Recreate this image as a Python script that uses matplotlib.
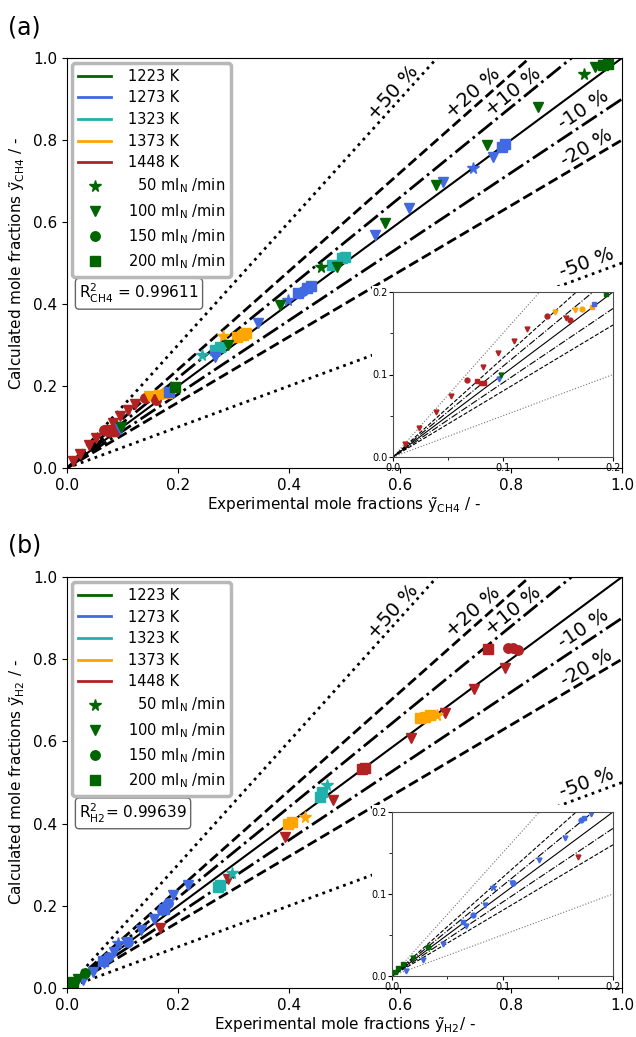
import math
import matplotlib
matplotlib.use('Agg')
import matplotlib.pyplot as plt
from matplotlib.patches import Rectangle
from matplotlib.lines import Line2D

# ---------------- categories ----------------
temps = ['1223 K', '1273 K', '1323 K', '1373 K', '1448 K']
temp_colors = ['darkgreen', 'royalblue', 'lightseagreen', 'orange', 'firebrick']
flows = ['  50', '100', '150', '200']
flow_markers = ['*', 'v', 'o', 's']

# ---------------- panel (a): CH4 ----------------
ch4_exp = [0.011, 0.024, 0.039, 0.053, 0.082, 0.095, 0.110, 0.122, 0.157,
           0.067, 0.140, 0.161, 0.076, 0.080, 0.083,
           0.147, 0.165, 0.172, 0.181, 0.306, 0.317, 0.322, 0.281,
           0.243, 0.267, 0.276, 0.477, 0.495, 0.500,
           0.096, 0.267, 0.344, 0.555, 0.616, 0.678, 0.768,
           0.183, 0.416, 0.432, 0.440, 0.784, 0.790, 0.398, 0.731, 0.425,
           0.098, 0.290, 0.384, 0.486, 0.573, 0.665, 0.757, 0.849, 0.951,
           0.194, 0.966, 0.975, 0.457, 0.932]
ch4_calc = [0.016, 0.035, 0.055, 0.074, 0.109, 0.126, 0.141, 0.155, 0.169,
            0.093, 0.171, 0.166, 0.092, 0.090, 0.090,
            0.176, 0.178, 0.180, 0.182, 0.320, 0.324, 0.330, 0.322,
            0.276, 0.288, 0.295, 0.495, 0.512, 0.515,
            0.095, 0.271, 0.354, 0.568, 0.634, 0.698, 0.759,
            0.186, 0.427, 0.439, 0.445, 0.783, 0.790, 0.410, 0.731, 0.432,
            0.100, 0.300, 0.398, 0.490, 0.598, 0.690, 0.788, 0.880, 0.978,
            0.198, 0.983, 0.985, 0.490, 0.961]
ch4_temp = [4] * 15 + [3] * 8 + [2] * 6 + [1] * 16 + [0] * 14
ch4_flow = ([1] * 9 + [2] * 3 + [3] * 3 +
            [1, 1, 2, 3, 3, 3, 3, 0] +
            [0, 3, 3, 3, 3, 3] +
            [1] * 7 + [3] * 6 + [0, 0, 2] +
            [1] * 9 + [3] * 3 + [0, 0])

# ---------------- panel (b): H2 ----------------
h2_exp = [0.759, 0.537, 0.532, 0.795, 0.804, 0.813,
          0.789, 0.733, 0.681, 0.620, 0.479, 0.393, 0.290, 0.168,
          0.636, 0.645, 0.654, 0.405, 0.398, 0.667, 0.429,
          0.468, 0.297, 0.456, 0.460, 0.276, 0.272,
          0.218, 0.191, 0.180, 0.157, 0.133, 0.109, 0.084, 0.067, 0.046, 0.028, 0.013,
          0.174, 0.064, 0.182, 0.171, 0.1095, 0.073, 0.0914,
          0.0326, 0.019, 0.010, 0.0054, 0.0024]
h2_calc = [0.825, 0.535, 0.533, 0.827, 0.827, 0.822,
           0.778, 0.727, 0.669, 0.608, 0.457, 0.367, 0.265, 0.145,
           0.657, 0.660, 0.664, 0.404, 0.400, 0.664, 0.416,
           0.494, 0.280, 0.465, 0.478, 0.251, 0.245,
           0.250, 0.226, 0.197, 0.168, 0.141, 0.113, 0.087, 0.0615, 0.039, 0.020, 0.0065,
           0.193, 0.066, 0.207, 0.190, 0.113, 0.0745, 0.109,
           0.0358, 0.0216, 0.0147, 0.0094, 0.005]
h2_temp = [4] * 14 + [3] * 7 + [2] * 6 + [1] * 18 + [0] * 5
h2_flow = ([3, 3, 3, 2, 2, 2] + [1] * 8 +
           [3, 3, 3, 3, 3, 0, 0] +
           [0, 0, 3, 3, 3, 3] +
           [1] * 11 + [3, 3, 2, 2, 2, 2, 0] +
           [2, 1, 3, 3, 3])

# ---------------- deviation lines ----------------
dev_factors = [1.5, 1.2, 1.1, 1.0, 0.9, 0.8, 0.5]
dev_labels = ['+50 %', '+20 %', '+10 %', None, '-10 %', '-20 %', '-50 %']
dev_styles = [':', '--', '-.', '-', '-.', '--', ':']
label_pos = [(0.587, 0.915), (0.732, 0.915), (0.804, 0.918), None,
             (0.930, 0.873), (0.937, 0.780), (0.937, 0.500)]

W, H = 636, 1037
fig = plt.figure(figsize=(W / 100, H / 100), dpi=100)
plt.rcParams['font.family'] = ['DejaVu Sans']


def msize(m, big=True):
    if big:
        return 8.5 if m == '*' else 6.8
    return 4.5 if m == '*' else 3.5


def draw_panel(rect, inset_rect, xs, ys, ts, fs, sub, r2text, tag, tag_y, xlab_sep):
    ax = fig.add_axes(rect)
    ax.set_xlim(0, 1)
    ax.set_ylim(0, 1)
    aspect = (rect[3] * H) / (rect[2] * W)
    for f, lab, ls, pos in zip(dev_factors, dev_labels, dev_styles, label_pos):
        lw = 1.5 if ls == '-' else 2.0
        ax.plot([0, 1], [0, f], ls=ls, color='black', lw=lw, zorder=1)
        if lab:
            ang = math.degrees(math.atan(f * aspect))
            ax.text(pos[0], pos[1], lab, rotation=ang, rotation_mode='anchor',
                    ha='center', va='center', fontsize=14, zorder=3)
    for x, y, t, fl in zip(xs, ys, ts, fs):
        m = flow_markers[fl]
        ax.plot(x, y, ls='none', marker=m, color=temp_colors[t],
                ms=msize(m), zorder=2)
    # white area reserved for the inset
    ax.add_patch(Rectangle((0.55, 0.0), 0.45, 0.445, transform=ax.transAxes,
                           facecolor='white', edgecolor='none', zorder=2.4))
    ax.set_xticks([0, 0.2, 0.4, 0.6, 0.8, 1.0])
    ax.set_yticks([0, 0.2, 0.4, 0.6, 0.8, 1.0])
    ax.tick_params(labelsize=11)
    ax.set_xlabel('Experimental mole fractions $\\tilde{\\mathrm{y}}_{\\mathrm{%s}}$%s/ -' % (sub, xlab_sep),
                  fontsize=11, labelpad=2)
    ax.set_ylabel('Calculated mole fractions $\\tilde{\\mathrm{y}}_{\\mathrm{%s}}$ / -' % sub,
                  fontsize=11, labelpad=4)
    handles = [Line2D([], [], color=c, lw=2) for c in temp_colors]
    labels = list(temps)
    for m, fl in zip(flow_markers, flows):
        handles.append(Line2D([], [], ls='none', marker=m, color='darkgreen',
                              ms=msize(m)))
        labels.append(fl + ' ml$_\\mathrm{N}$ /min')
    leg = ax.legend(handles, labels, loc='upper left', fontsize=10.5,
                    bbox_to_anchor=(0.0, 1.0), borderaxespad=0.35, borderpad=0.4,
                    labelspacing=0.45, handlelength=2.3, handletextpad=1.1,
                    fancybox=True, framealpha=1, edgecolor='0.72')
    leg.get_frame().set_linewidth(2.5)
    leg.set_zorder(5)
    ax.text(0.022, 0.425, r2text, transform=ax.transAxes, fontsize=11,
            ha='left', va='center', zorder=5,
            bbox=dict(boxstyle='round,pad=0.25', facecolor='white', edgecolor='0.4', lw=1))
    fig.text(8 / W, tag_y, tag, fontsize=17, ha='left', va='center')

    ins = fig.add_axes(inset_rect)
    ins.set_xlim(0, 0.2)
    ins.set_ylim(0, 0.2)
    for f, ls in zip(dev_factors, dev_styles):
        col = '0.45' if ls == ':' else 'black'
        ins.plot([0, 0.2], [0, 0.2 * f], ls=ls, color=col, lw=0.8, zorder=1)
    for x, y, t, fl in zip(xs, ys, ts, fs):
        if x <= 0.2 and y <= 0.2:
            m = flow_markers[fl]
            ins.plot(x, y, ls='none', marker=m, color=temp_colors[t],
                     ms=msize(m, False), zorder=2)
    ins.set_xticks([0, 0.1, 0.2])
    ins.set_yticks([0, 0.1, 0.2])
    ins.set_xticks([0.05, 0.15], minor=True)
    ins.set_yticks([0.05, 0.15], minor=True)
    ins.set_xticklabels(['0.0', '0.1', '0.2'])
    ins.set_yticklabels(['0.0', '0.1', '0.2'])
    ins.tick_params(labelsize=7, length=3, pad=1)
    ins.tick_params(which='minor', length=2)
    for s in ins.spines.values():
        s.set_color('0.3')
    return ax


draw_panel([67 / W, 1 - 468 / H, 555 / W, 410 / H],
           [393 / W, 1 - 457 / H, 220 / W, 165 / H],
           ch4_exp, ch4_calc, ch4_temp, ch4_flow, 'CH4',
           r'$\mathrm{R}^2_{\mathrm{CH4}}$ = 0.99611', '(a)', 1 - 28 / H, ' ')
draw_panel([67 / W, 1 - 988 / H, 555 / W, 411 / H],
           [392 / W, 1 - 976 / H, 221 / W, 164 / H],
           h2_exp, h2_calc, h2_temp, h2_flow, 'H2',
           r'$\mathrm{R}^2_{\mathrm{H2}}$= 0.99639', '(b)', 1 - 545 / H, '')

fig.savefig('out.png', dpi=100)
